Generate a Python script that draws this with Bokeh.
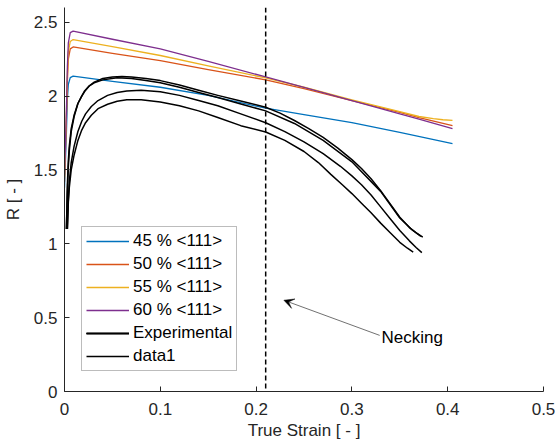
from bokeh.plotting import figure
from bokeh.models import (Range1d, FixedTicker, Legend, LegendItem, Span, Arrow,
                          VeeHead, Label)
from bokeh.embed import file_html
from bokeh.resources import INLINE

# ---------------- data ----------------
x_ticks = [0, 0.1, 0.2, 0.3, 0.4, 0.5]
x_tick_labels = ["0", "0.1", "0.2", "0.3", "0.4", "0.5"]
y_ticks = [0, 0.5, 1, 1.5, 2, 2.5]
y_tick_labels = ["0", "0.5", "1", "1.5", "2", "2.5"]

model_labels = ["45 % <111>", "50 % <111>", "55 % <111>", "60 % <111>"]
model_colors = ["#0072BD", "#D95319", "#EDB120", "#7E2F8E"]

m45_x = [0, 0.002, 0.003, 0.004, 0.006, 0.009, 0.05, 0.1, 0.15, 0.21, 0.25, 0.3, 0.35, 0.405]
m45_y = [1.38, 1.75, 1.98, 2.08, 2.125, 2.135, 2.10, 2.06, 2.005, 1.918, 1.875, 1.82, 1.755, 1.678]

m50_x = [0, 0.002, 0.003, 0.004, 0.006, 0.009, 0.05, 0.1, 0.15, 0.21, 0.25, 0.3, 0.35, 0.37, 0.405]
m50_y = [1.42, 1.85, 2.10, 2.25, 2.32, 2.333, 2.29, 2.24, 2.18, 2.11, 2.05, 1.97, 1.89, 1.855, 1.80]

m55_x = [0, 0.002, 0.003, 0.004, 0.006, 0.009, 0.05, 0.1, 0.15, 0.21, 0.25, 0.3, 0.35, 0.37, 0.385, 0.395, 0.405]
m55_y = [1.45, 1.88, 2.15, 2.30, 2.37, 2.383, 2.335, 2.275, 2.205, 2.123, 2.06, 1.975, 1.895, 1.862, 1.847, 1.84, 1.836]

m60_x = [0, 0.002, 0.003, 0.004, 0.006, 0.009, 0.05, 0.1, 0.15, 0.21, 0.25, 0.3, 0.35, 0.37, 0.405]
m60_y = [1.47, 1.90, 2.20, 2.36, 2.43, 2.44, 2.385, 2.32, 2.235, 2.13, 2.06, 1.97, 1.88, 1.845, 1.78]

# experimental curves
expA_x = [0.002, 0.003, 0.004, 0.005, 0.007, 0.010, 0.014, 0.018, 0.021, 0.026, 0.031, 0.04, 0.05,
          0.06, 0.07, 0.085, 0.10, 0.12, 0.14, 0.16, 0.185, 0.21, 0.225, 0.24, 0.255, 0.27, 0.285,
          0.30, 0.31, 0.32, 0.33, 0.34, 0.35, 0.36, 0.368, 0.374]
expA_y = [1.10, 1.35, 1.52, 1.63, 1.76, 1.86, 1.95, 2.00, 2.035, 2.07, 2.095, 2.12, 2.13,
          2.133, 2.13, 2.12, 2.105, 2.075, 2.04, 2.005, 1.965, 1.925, 1.885, 1.835, 1.78, 1.72, 1.65,
          1.57, 1.51, 1.44, 1.36, 1.27, 1.18, 1.11, 1.07, 1.045]

expM_x = [0.003, 0.004, 0.005, 0.007, 0.010, 0.014, 0.018, 0.022, 0.028, 0.035, 0.045, 0.055,
          0.065, 0.08, 0.10, 0.12, 0.14, 0.16, 0.184, 0.21, 0.23, 0.25, 0.27, 0.288, 0.30, 0.31,
          0.32, 0.33, 0.34, 0.35, 0.36, 0.367, 0.373]
expM_y = [1.10, 1.30, 1.42, 1.55, 1.66, 1.76, 1.83, 1.88, 1.93, 1.97, 2.005, 2.025,
          2.035, 2.04, 2.03, 2.005, 1.97, 1.935, 1.88, 1.82, 1.76, 1.69, 1.61, 1.525, 1.46, 1.40,
          1.33, 1.25, 1.17, 1.09, 1.02, 0.975, 0.94]

expB_x = [0.003, 0.004, 0.005, 0.007, 0.010, 0.014, 0.018, 0.022, 0.028, 0.035, 0.045, 0.055,
          0.065, 0.08, 0.10, 0.12, 0.14, 0.16, 0.184, 0.21, 0.23, 0.25, 0.265, 0.278, 0.29, 0.30,
          0.31, 0.32, 0.33, 0.34, 0.35, 0.358, 0.364]
expB_y = [1.10, 1.28, 1.38, 1.50, 1.60, 1.70, 1.77, 1.82, 1.87, 1.915, 1.945, 1.965,
          1.975, 1.975, 1.96, 1.935, 1.90, 1.855, 1.80, 1.757, 1.70, 1.625, 1.55, 1.47, 1.40, 1.34,
          1.275, 1.21, 1.14, 1.075, 1.01, 0.97, 0.944]

data1_x = [0.002, 0.003, 0.004, 0.005, 0.007, 0.010, 0.014, 0.018, 0.022, 0.026, 0.031, 0.04, 0.055,
           0.07, 0.085, 0.10, 0.12, 0.14, 0.16, 0.185, 0.21, 0.24, 0.27, 0.30, 0.33, 0.35, 0.362, 0.372]
data1_y = [1.10, 1.40, 1.56, 1.66, 1.78, 1.87, 1.95, 2.00, 2.04, 2.07, 2.09, 2.11, 2.125,
           2.12, 2.105, 2.09, 2.06, 2.025, 1.99, 1.945, 1.90, 1.815, 1.70, 1.555, 1.355, 1.175, 1.10, 1.05]

necking_strain = 0.21
arrow_tail = (0.329, 0.38)
arrow_head = (0.229, 0.618)
necking_text_pos = (0.331, 0.366)

# ---------------- figure ----------------
FONT = "Liberation Sans"
TXT = "#262626"

p = figure(width=555, height=446, output_backend="svg", toolbar_location=None,
           x_range=Range1d(0, 0.5), y_range=Range1d(0, 2.6),
           min_border_left=64, min_border_right=12, min_border_top=7, min_border_bottom=55)
p.outline_line_color = None
p.xgrid.visible = False
p.ygrid.visible = False
p.background_fill_color = "white"

for ax, ticks, labels in ((p.xaxis[0], x_ticks, x_tick_labels), (p.yaxis[0], y_ticks, y_tick_labels)):
    ax.ticker = FixedTicker(ticks=ticks)
    ax.major_label_overrides = {t: l for t, l in zip(ticks, labels)}
    ax.major_tick_in = 5
    ax.major_tick_out = 0
    ax.minor_tick_line_color = None
    ax.axis_line_color = TXT
    ax.major_tick_line_color = TXT
    ax.major_label_text_font = FONT
    ax.major_label_text_font_size = "17px"
    ax.major_label_text_color = TXT
    ax.axis_label_text_font = FONT
    ax.axis_label_text_font_size = "17px"
    ax.axis_label_text_font_style = "normal"
    ax.axis_label_text_color = TXT

p.xaxis.axis_label = "True Strain [ - ]"
p.yaxis.axis_label = "R [ - ]"
p.xaxis.major_label_standoff = 11
p.xaxis.axis_label_standoff = 3
p.yaxis.major_label_standoff = 7
p.yaxis.axis_label_standoff = 8

model_xs = [m45_x, m50_x, m55_x, m60_x]
model_ys = [m45_y, m50_y, m55_y, m60_y]
items = []
for xs, ys, c, lab in zip(model_xs, model_ys, model_colors, model_labels):
    r = p.line(xs, ys, line_color=c, line_width=1.3, line_join="round")
    items.append(LegendItem(label=lab, renderers=[r]))

exp_rs = []
for xs, ys in ((expA_x, expA_y), (expM_x, expM_y), (expB_x, expB_y)):
    exp_rs.append(p.line(xs, ys, line_color="black", line_width=1.5, line_join="round"))
items.append(LegendItem(label="Experimental", renderers=exp_rs))
rd = p.line(data1_x, data1_y, line_color="black", line_width=1.5, line_join="round")
items.append(LegendItem(label="data1", renderers=[rd]))

p.add_layout(Span(location=necking_strain, dimension="height", line_color="black",
                  line_width=1.5, line_dash="5 3"))

p.add_layout(Arrow(end=VeeHead(size=10, fill_color="black", line_color="black", line_width=0.5),
                   x_start=arrow_tail[0], y_start=arrow_tail[1],
                   x_end=arrow_head[0], y_end=arrow_head[1],
                   line_color="#333333", line_width=0.7))
p.add_layout(Label(x=necking_text_pos[0], y=necking_text_pos[1], text="Necking",
                   text_baseline="middle", text_align="left", text_font=FONT,
                   text_font_size="17px", text_color="black"))

legend = Legend(items=items, location=(17, 20), orientation="vertical",
                label_text_font=FONT, label_text_font_size="17px", label_text_color="black",
                glyph_width=43, glyph_height=20, label_height=20, label_standoff=4,
                spacing=3, padding=4, margin=0,
                border_line_color="#7a7a7a", border_line_width=1,
                background_fill_color="white", background_fill_alpha=1)
p.add_layout(legend)

open("out.html", "w").write(file_html(p, INLINE))
